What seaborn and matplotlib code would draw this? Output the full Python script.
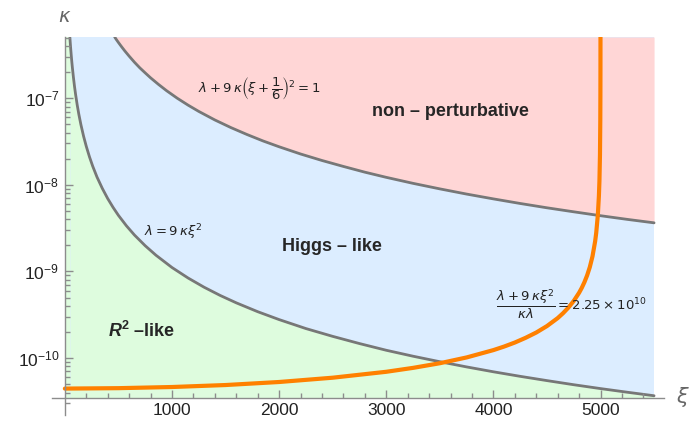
import numpy as np
import matplotlib
matplotlib.use("Agg")
import matplotlib.pyplot as plt
import matplotlib.ticker as mticker
import seaborn as sns

# =============
# DATOS
# =============
# curva inferior: lambda = 9 kappa xi^2
xi_low = [47, 50, 55, 60, 65, 70, 80, 90, 100, 115, 130, 150, 175, 200, 230,
          260, 300, 350, 400, 450, 500, 575, 650, 750, 850, 1000, 1150, 1300,
          1450, 1600, 1800, 2000, 2250, 2500, 2750, 3000, 3250, 3500, 3750,
          4000, 4250, 4500, 4750, 5000, 5250, 5500]
k_low = [5.03e-7, 4.44e-7, 3.67e-7, 3.09e-7, 2.63e-7, 2.27e-7, 1.74e-7,
         1.37e-7, 1.11e-7, 8.4e-8, 6.57e-8, 4.94e-8, 3.63e-8, 2.78e-8, 2.10e-8,
         1.64e-8, 1.23e-8, 9.07e-9, 6.94e-9, 5.49e-9, 4.44e-9, 3.36e-9,
         2.63e-9, 1.98e-9, 1.54e-9, 1.11e-9, 8.4e-10, 6.57e-10, 5.28e-10,
         4.34e-10, 3.43e-10, 2.78e-10, 2.19e-10, 1.78e-10, 1.47e-10, 1.23e-10,
         1.05e-10, 9.07e-11, 7.90e-11, 6.94e-11, 6.15e-11, 5.49e-11, 4.92e-11,
         4.44e-11, 4.03e-11, 3.67e-11]

# curva superior: lambda + 9 kappa (xi + 1/6)^2 = 1
xi_up = [465, 480, 500, 530, 560, 600, 650, 700, 750, 800, 875, 950, 1050,
         1150, 1250, 1400, 1550, 1700, 1850, 2000, 2200, 2400, 2600, 2800,
         3000, 3250, 3500, 3750, 4000, 4250, 4500, 4750, 5000, 5250, 5500]
k_up = [5.09e-7, 4.77e-7, 4.40e-7, 3.92e-7, 3.51e-7, 3.06e-7, 2.60e-7,
        2.24e-7, 1.96e-7, 1.72e-7, 1.44e-7, 1.22e-7, 9.98e-8, 8.32e-8,
        7.04e-8, 5.61e-8, 4.58e-8, 3.81e-8, 3.21e-8, 2.75e-8, 2.27e-8,
        1.91e-8, 1.63e-8, 1.40e-8, 1.22e-8, 1.04e-8, 8.98e-9, 7.82e-9,
        6.88e-9, 6.09e-9, 5.43e-9, 4.88e-9, 4.40e-9, 3.99e-9, 3.64e-9]

# curva naranja: (lambda + 9 kappa xi^2)/(kappa lambda) = 2.25e10
xi_orange = [0, 500, 1000, 1500, 2000, 2500, 3000, 3250, 3500, 3750, 4000,
             4100, 4200, 4300, 4400, 4500, 4600, 4650, 4700, 4750, 4800,
             4825, 4850, 4875, 4900, 4925, 4950, 4960, 4975, 4985, 4990,
             4995, 4998, 4999, 4999.5, 4999.8]
k_orange = [4.44e-11, 4.49e-11, 4.63e-11, 4.88e-11, 5.29e-11, 5.93e-11,
            6.94e-11, 7.70e-11, 8.71e-11, 1.016e-10, 1.235e-10, 1.357e-10,
            1.51e-10, 1.71e-10, 1.97e-10, 2.34e-10, 2.89e-10, 3.29e-10,
            3.82e-10, 4.56e-10, 5.67e-10, 6.46e-10, 7.52e-10, 9.0e-10,
            1.12e-9, 1.49e-9, 2.23e-9, 2.79e-9, 4.46e-9, 7.42e-9, 1.11e-8,
            2.22e-8, 5.56e-8, 1.11e-7, 2.22e-7, 5.56e-7]

xi_ticks = [1000, 2000, 3000, 4000, 5000]
xi_minor = [200, 400, 600, 800, 1200, 1400, 1600, 1800, 2200, 2400, 2600,
            2800, 3200, 3400, 3600, 3800, 4200, 4400, 4600, 4800, 5200, 5400]
k_ticks = [1e-10, 1e-9, 1e-8, 1e-7]

XI_MAX = 5500
K_MIN, K_MAX = 3.5e-11, 5.09e-7
K_BOT = 2.2e-11

# =============
# ESTILO
# =============
sns.set_theme(style="ticks")
plt.rcParams['font.family'] = ['Liberation Sans', 'DejaVu Sans']
plt.rcParams['mathtext.fontset'] = 'custom'
plt.rcParams['mathtext.rm'] = 'Liberation Sans'
plt.rcParams['mathtext.it'] = 'Liberation Sans:italic'
plt.rcParams['mathtext.bf'] = 'Liberation Sans:bold'
plt.rcParams['mathtext.bfit'] = 'Liberation Sans:italic:bold'

c_red, c_blue, c_green = '#FFD6D6', '#DCEDFF', '#DEFCDE'
c_gray, c_orange = '#777777', '#FF8000'
c_axis = '#8C8C8C'

fig = plt.figure(figsize=(6.89, 4.21), dpi=100)
ax = fig.add_axes([52 / 689, 6 / 421, 616 / 689, 378 / 421])
ax.set_yscale('log')
ax.set_xlim(-120, 5630)
ax.set_ylim(K_BOT, K_MAX)

# regiones
ax.fill_between([0, XI_MAX], K_MIN, K_MAX, color=c_blue, lw=0, zorder=0.5)
ax.fill_between(xi_up, k_up, K_MAX, color=c_red, lw=0, zorder=0.6)
ax.fill_between(xi_low, K_MIN, k_low, color=c_green, lw=0, zorder=0.6)
ax.fill_between([0, xi_low[0]], K_MIN, K_MAX, color=c_green, lw=0, zorder=0.6)

# curvas
sns.lineplot(x=xi_low, y=k_low, ax=ax, color=c_gray, linewidth=2.0, sort=False)
sns.lineplot(x=xi_up, y=k_up, ax=ax, color=c_gray, linewidth=2.0, sort=False)
sns.lineplot(x=xi_orange, y=k_orange, ax=ax, color=c_orange, linewidth=3.0, sort=False)

# ejes estilo Mathematica
for s in ['top', 'right']:
    ax.spines[s].set_visible(False)
ax.spines['left'].set_position(('data', 0))
ax.spines['bottom'].set_position(('data', K_MIN))
ax.spines['bottom'].set_bounds(-120, 5590)
for s in ['left', 'bottom']:
    ax.spines[s].set_color(c_axis)
    ax.spines[s].set_linewidth(1.0)
ax.set_axisbelow(False)

ax.xaxis.set_major_locator(mticker.FixedLocator(xi_ticks))
ax.xaxis.set_minor_locator(mticker.FixedLocator(xi_minor))
ax.xaxis.set_major_formatter(mticker.FixedFormatter([str(t) for t in xi_ticks]))
ax.yaxis.set_major_locator(mticker.FixedLocator(k_ticks))
ax.yaxis.set_minor_locator(mticker.LogLocator(base=10, subs=np.arange(2, 10)))
ax.yaxis.set_major_formatter(mticker.FixedFormatter(
    [r'$10^{%d}$' % int(round(np.log10(t))) for t in k_ticks]))
ax.yaxis.set_minor_formatter(mticker.NullFormatter())

ax.tick_params(axis='both', which='major', direction='in', length=6, width=1.0,
               color=c_axis, labelsize=12.5, labelcolor='#222222', pad=4)
ax.tick_params(axis='both', which='minor', direction='in', length=3.5, width=1.0,
               color=c_axis)
ax.tick_params(axis='x', which='both', bottom=True, top=False)
ax.tick_params(axis='y', which='both', left=True, right=False)

# etiquetas de ejes
fig.text(65 / 689, 1 - 17 / 421, r'$\kappa$', fontsize=14, color='#666666',
         ha='center', va='center', math_fontfamily='dejavusans')
fig.text(683 / 689, 1 - 397 / 421, r'$\xi$', fontsize=15, color='#666666',
         ha='center', va='center', math_fontfamily='dejavusans')

# textos
ax.text(1811, 1.31e-7, r'$\lambda + 9\,\kappa\left(\xi + \dfrac{1}{6}\right)^2 = 1$',
        fontsize=9.5, ha='center', va='center', color='#222222',
        math_fontfamily='dejavusans')
ax.text(3595, 6.96e-8, 'non – perturbative', fontsize=13, fontweight='bold',
        ha='center', va='center')
ax.text(2493, 1.94e-9, 'Higgs – like', fontsize=13, fontweight='bold',
        ha='center', va='center')
ax.text(719, 2.03e-10, r'$\mathbfit{R}^{\mathbf{2}}$ –like', fontsize=13,
        fontweight='bold', ha='center', va='center')
ax.text(1008, 2.82e-9, r'$\lambda = 9\,\kappa\xi^2$', fontsize=9.5,
        ha='center', va='center', color='#222222', math_fontfamily='dejavusans')
ax.text(4725, 4.17e-10, r'$\dfrac{\lambda + 9\,\kappa\xi^2}{\kappa\lambda} = 2.25\times 10^{10}$',
        fontsize=9.5, ha='center', va='center', color='#222222',
        math_fontfamily='dejavusans')

plt.savefig('out.png', dpi=100)
